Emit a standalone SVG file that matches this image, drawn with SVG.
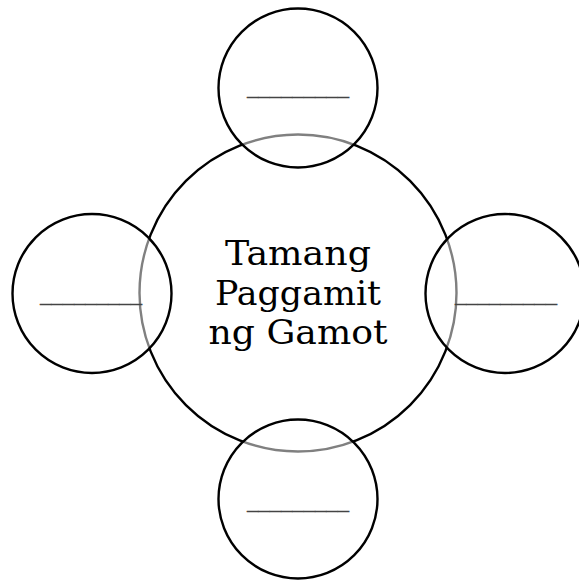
<svg xmlns="http://www.w3.org/2000/svg" width="579" height="583" viewBox="0 0 579 583">
<style>
.big{fill:#fff;stroke:#000;stroke-width:2.4}
.small{fill:#fff;fill-opacity:0.5;stroke:#000;stroke-width:2.4}
.title{font-family:"DejaVu Serif","Liberation Serif",serif;font-size:34px;fill:#000;text-anchor:middle}
.blank{font-family:"DejaVu Serif","Liberation Serif",serif;font-size:22.6px;fill:#444;stroke:#444;stroke-width:0.6}
</style>
<rect width="579" height="583" fill="#fff"/>
<g id="center">
<circle class="big" cx="298" cy="293" r="158.5"/>
<text class="title" x="298" y="265" textLength="146" lengthAdjust="spacingAndGlyphs">Tamang</text>
<text class="title" x="298" y="305" textLength="166" lengthAdjust="spacingAndGlyphs">Paggamit</text>
<text class="title" x="298" y="344" textLength="179" lengthAdjust="spacingAndGlyphs">ng Gamot</text>
</g>
<g id="top">
<circle class="small" cx="298" cy="88" r="79.5"/>
<text class="blank" x="247" y="93" textLength="102" lengthAdjust="spacingAndGlyphs">_________</text>
</g>
<g id="left">
<circle class="small" cx="92" cy="293.5" r="79.5"/>
<text class="blank" x="40" y="300" textLength="102" lengthAdjust="spacingAndGlyphs">_________</text>
</g>
<g id="right">
<circle class="small" cx="505" cy="293.5" r="79.5"/>
<text class="blank" x="455" y="300" textLength="102" lengthAdjust="spacingAndGlyphs">_________</text>
</g>
<g id="bottom">
<circle class="small" cx="298" cy="499" r="79.5"/>
<text class="blank" x="247" y="507" textLength="102" lengthAdjust="spacingAndGlyphs">_________</text>
</g>
<g id="connectors"></g>
</svg>
